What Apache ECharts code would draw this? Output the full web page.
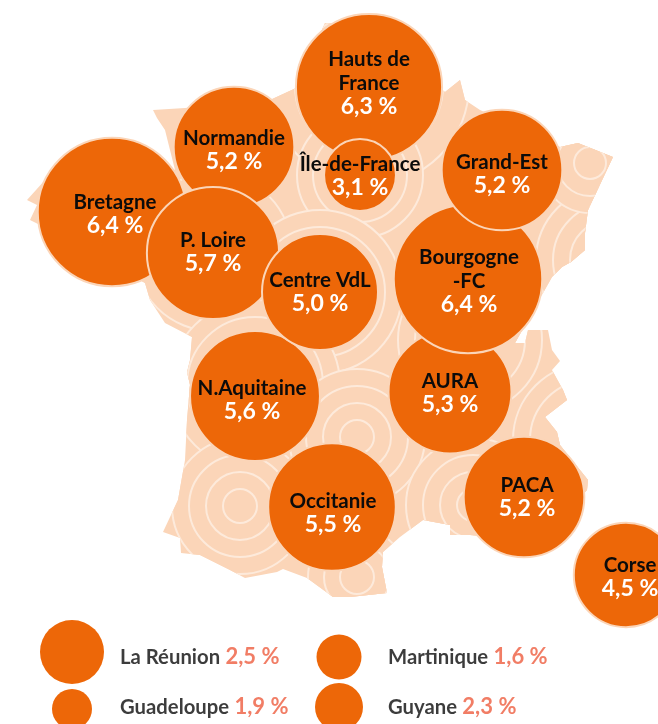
<!DOCTYPE html>
<html><head><meta charset="utf-8">
<script src="https://cdn.jsdelivr.net/npm/echarts@6/dist/echarts.min.js"></script>
<style>html,body{margin:0;padding:0;background:#fff}#c{width:658px;height:724px}</style>
</head><body><div id="c"></div>
<script>
var regionNames = ['Bretagne','Normandie','Hauts de\nFrance','P. Loire','N.Aquitaine','Occitanie','AURA','Bourgogne\n-FC','Centre VdL','Grand-Est','Île-de-France','PACA','Corse'];
var regionValues = [6.4,5.2,6.3,5.7,5.6,5.5,5.3,6.4,5.0,5.2,3.1,5.2,4.5];
var regionX = [112,234,369,213,255,332,450,468,320,502,360,524,626];
var regionY = [212,147,87,253,396,507,392,279,292,170,175,497,575];
var labelDx = [3,0,0,0,-3,1,0,1,0,0,0,3,4];
var labelDy = [2,3,-4,-1,4,6,1,2,0,4,1,0,2];
var overseasNames = ['La Réunion','Martinique','Guadeloupe','Guyane'];
var overseasValues = ['2,5 %','1,6 %','1,9 %','2,3 %'];
var overseasX = [72,339,72,339];
var overseasY = [652,657,709,707];
var overseasRadius = [32,22.5,20,24];
var overseasTextX = [120,388,120,388];
var overseasTextY = [657,657,707,707];
var landX = [325,345,400,445,460,465,480,560,578,613,588,585,585,571,562,552,515,525,528,548,552,560,552,563,567,545,557,560,588,587,540,470,450,450,423,400,383,382,387,350,333,307,283,277,245,230,200,181,180,163,178,185,187,190,187,190,192,165,150,145,40,30,37,27,45,150,175,170,165,157,153,185,270,296,325];
var landY = [23,25,60,92,80,100,110,147,143,157,210,233,250,262,267,277,343,343,330,330,350,361,370,390,400,417,432,445,480,490,540,535,535,525,520,537,552,567,593,597,597,578,569,572,578,570,555,553,538,532,500,460,420,385,372,360,337,323,300,283,225,220,205,200,180,160,170,150,130,118,110,108,100,88,23];
var ringX = [610,590,369,213,360,320,255,470,590,357,357,473,240];
var ringY = [260,163,85,252,175,292,385,340,440,437,577,505,506];
var ringFirst = [40,16,74,62,47,65,68,55,60,17,17,16,17];
var ringCount = [3,3,2,2,2,2,2,2,2,4,3,4,4];
var ringStep = [17,17,26,17,16,17,17,17,17,17,16,17,17];

var rings = [];
ringX.forEach(function (x, i) {
  for (var k = ringCount[i] - 1; k >= 0; k--) rings.push([x, ringY[i], ringFirst[i] + k * ringStep[i]]);
});

function landPoints(api) {
  return landX.map(function (x, i) { return api.coord([x, landY[i]]); });
}

var option = {
  animation: false,
  backgroundColor: '#fff',
  grid: { left: 0, right: 0, top: 0, bottom: 0 },
  xAxis: { type: 'value', min: 0, max: 658, show: false },
  yAxis: { type: 'value', min: 0, max: 724, inverse: true, show: false },
  series: [
    {
      type: 'custom', silent: true, z: 1, clip: false,
      data: [[0, 0]],
      renderItem: function (params, api) {
        return { type: 'polygon', shape: { points: landPoints(api), smooth: 0 }, style: { fill: '#fbd5b8' } };
      }
    },
    {
      type: 'custom', silent: true, z: 2, clip: false,
      data: [[0, 0]],
      renderItem: function (params, api) {
        var kids = rings.map(function (r) {
          var c = api.coord([r[0], r[1]]);
          return { type: 'circle', shape: { cx: c[0], cy: c[1], r: api.size([r[2], 0])[0] },
            style: { fill: '#fbd5b8', stroke: '#fdeadb', lineWidth: 2 } };
        });
        return { type: 'group', children: kids,
          clipPath: { type: 'polygon', shape: { points: landPoints(api) } } };
      }
    },
    {
      type: 'scatter', z: 3, silent: true,
      data: regionValues.map(function (v, i) {
        return {
          value: [regionX[i], regionY[i], v],
          symbolSize: 23.2 * v,
          label: {
            show: true, position: 'inside', offset: [labelDx[i], labelDy[i]],
            formatter: '{n|' + regionNames[i].replace('\n', '}\n{n|') + '}\n{v|' + v.toFixed(1).replace('.', ',') + ' %}',
            rich: {
              n: { fontFamily: 'Lato', fontWeight: 700, fontSize: 20.5, lineHeight: 23.5, color: '#0b0b0b' },
              v: { fontFamily: 'Lato', fontWeight: 700, fontSize: 23, lineHeight: 23.5, color: '#fff' }
            }
          }
        };
      }),
      symbol: 'circle',
      itemStyle: { color: '#ed6708', borderColor: '#fbd5b8', borderWidth: 2, opacity: 1 }
    },
    {
      type: 'scatter', z: 3, silent: true, symbol: 'circle',
      data: overseasNames.map(function (n, i) {
        return { value: [overseasX[i], overseasY[i]], symbolSize: overseasRadius[i] * 2 };
      }),
      itemStyle: { color: '#ed6708', opacity: 1 }
    },
    {
      type: 'scatter', z: 4, silent: true, symbolSize: 0,
      data: overseasNames.map(function (n, i) {
        return {
          value: [overseasTextX[i], overseasTextY[i]],
          label: {
            show: true, position: 'right', distance: 0,
            formatter: '{n|' + n + '} {v|' + overseasValues[i] + '}',
            rich: {
              n: { fontFamily: 'Lato', fontWeight: 700, fontSize: 20.3, color: '#0b0b0b' },
              v: { fontFamily: 'Lato', fontWeight: 700, fontSize: 22, color: '#ee5c3e', padding: [0, 0, 0, 2] }
            }
          }
        };
      })
    }
  ]
};
echarts.init(document.getElementById('c'), null, { renderer: 'canvas' }).setOption(option);
</script></body></html>
